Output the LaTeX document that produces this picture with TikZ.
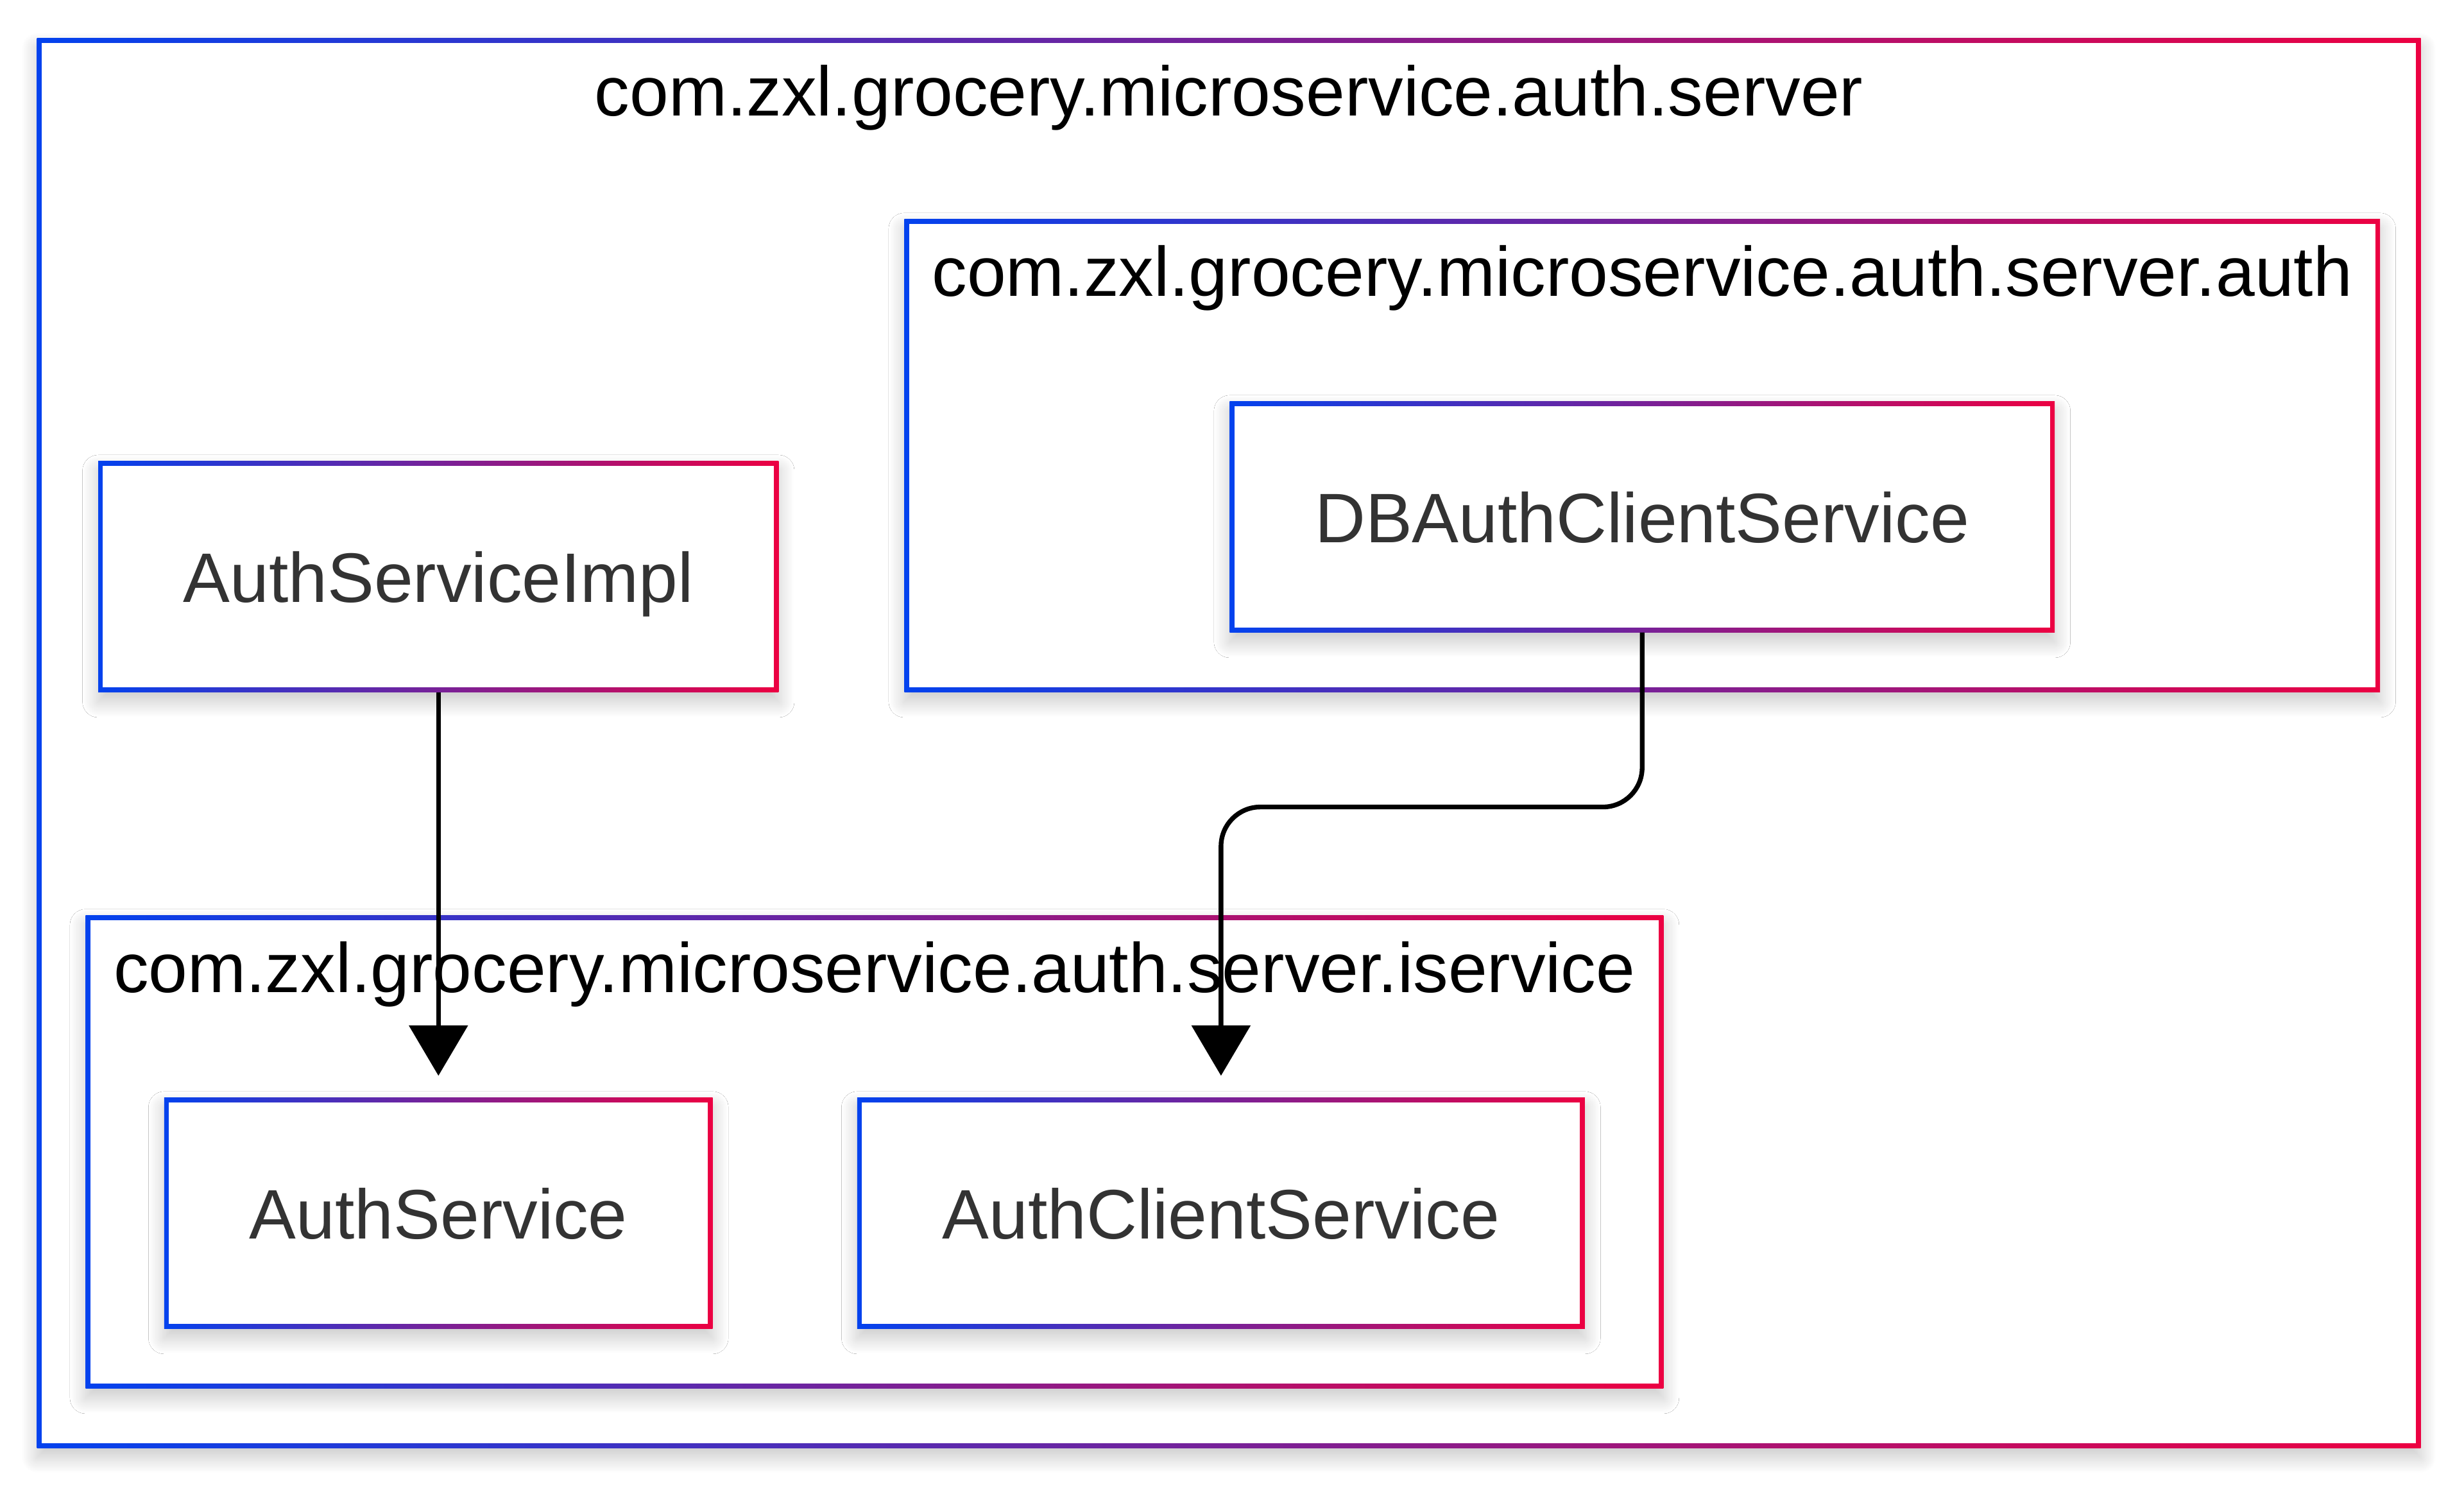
\documentclass[tikz,border=0pt]{standalone}
\usepackage{fontspec}
\setmainfont{Liberation Sans}
\usepackage{tikz}
\usetikzlibrary{arrows.meta,shadows.blur}

\definecolor{gblue}{RGB}{3,66,238}
\definecolor{gred}{RGB}{236,0,66}
\definecolor{txtgray}{RGB}{51,51,51}

\tikzset{
    box/.style={rectangle, outer sep=0pt, inner sep=0pt, fill=white,
        blur shadow={shadow xshift=0pt, shadow yshift=-6pt, shadow blur radius=10pt, shadow blur steps=30, shadow opacity=22},
        path picture={
            \shade[left color=gblue, right color=gred] (path picture bounding box.south west) rectangle (path picture bounding box.north east);
            \fill[white] ([shift={(3pt,3pt)}]path picture bounding box.south west) rectangle ([shift={(-3pt,-3pt)}]path picture bounding box.north east);
        }},
    cls/.style={box, text=txtgray, text depth=0pt, font=\fontsize{44.6pt}{54pt}\selectfont},
    pkg/.style={box},
    pkgtitle/.style={inner sep=0pt, text=black, font=\fontsize{44.6pt}{54pt}\selectfont},
    dep/.style={draw=black, line width=3pt, -{Triangle[length=32pt,width=37pt]}, shorten >=14pt}
}

\begin{document}
\begin{tikzpicture}[x=1pt, y=-1pt]
        \useasboundingbox (0,0) rectangle (1568,949);

        \node[pkg, minimum width=1517pt, minimum height=897pt] (server) at (782,473) {};
        \node[pkgtitle] (serverT) at (782,62) {com.zxl.grocery.microservice.auth.server};

        \node[pkg, minimum width=939pt, minimum height=301pt] (authpkg) at (1045,290) {};
        \node[pkgtitle] (authpkgT) at (1045,177) {com.zxl.grocery.microservice.auth.server.auth};
        \node[cls, minimum width=525pt, minimum height=147pt] (dbauth) at (1045,329) {DBAuthClientService};

        \node[cls, minimum width=433pt, minimum height=147pt] (authimpl) at (279,367) {AuthServiceImpl};

        \node[pkg, minimum width=1004pt, minimum height=301pt] (ipkg) at (556.5,733) {};
        \node[pkgtitle] (ipkgT) at (556.5,620) {com.zxl.grocery.microservice.auth.server.iservice};
        \node[cls, minimum width=349pt, minimum height=147pt] (authsvc) at (279,772) {AuthService};
        \node[cls, minimum width=463pt, minimum height=147pt] (authclient) at (777,772) {AuthClientService};

        \draw[dep] (authimpl.south) -- (authsvc.north);
        \draw[dep, rounded corners=25pt] (dbauth.south) -- ++(0,111) -| (authclient.north);
    \end{tikzpicture}
\end{document}
